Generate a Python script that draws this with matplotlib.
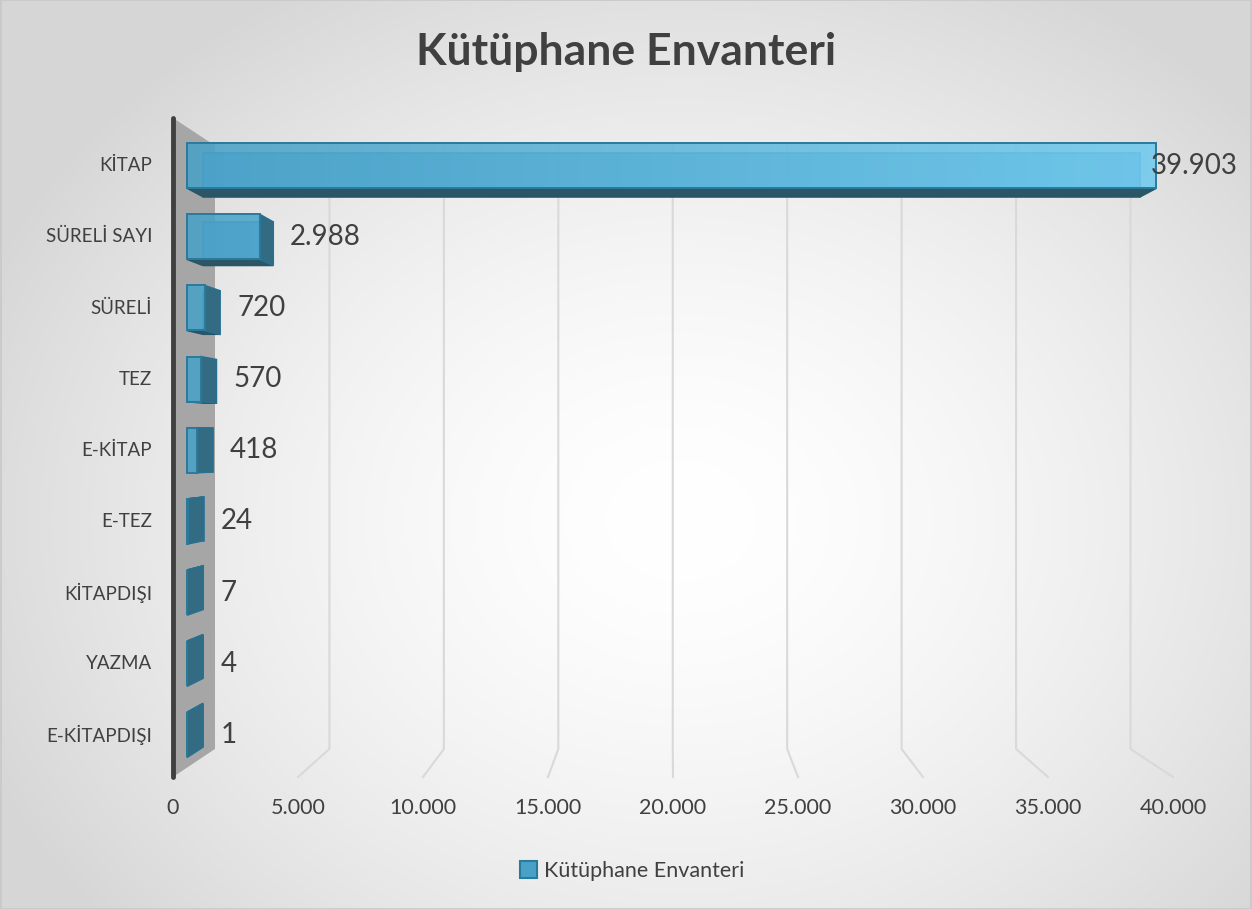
import numpy as np
import matplotlib
matplotlib.use("Agg")
import matplotlib.pyplot as plt
from matplotlib.patches import Polygon, Patch, Rectangle
from matplotlib.colors import LinearSegmentedColormap

# ---- data ----
categories = ["KİTAP", "SÜRELİ SAYI", "SÜRELİ", "TEZ", "E-KİTAP",
              "E-TEZ", "KİTAPDIŞI", "YAZMA", "E-KİTAPDIŞI"]
values = [39903, 2988, 720, 570, 418, 24, 7, 4, 1]
tick_values = [0, 5000, 10000, 15000, 20000, 25000, 30000, 35000, 40000]
tick_labels = ["0", "5.000", "10.000", "15.000", "20.000", "25.000",
               "30.000", "35.000", "40.000"]
series_name = "Kütüphane Envanteri"
title = "Kütüphane Envanteri"

W, H = 1252, 909
plt.rcParams['font.family'] = ['Lato', 'DejaVu Sans']
TXT = '#404040'

fig = plt.figure(figsize=(W / 100, H / 100), dpi=100)

# background radial gradient
bg = fig.add_axes([0, 0, 1, 1], zorder=-10)
yy, xx = np.mgrid[0:H, 0:W]
r = np.sqrt(((xx - 680) / 760.0) ** 2 + ((yy - 520) / 620.0) ** 2)
shade = 1.0 - 0.16 * np.clip(r, 0, 1) ** 1.6
bgimg = np.dstack([shade, shade, shade])
bg.imshow(bgimg, extent=[0, 1, 0, 1], aspect='auto', origin='upper')
bg.add_patch(Rectangle((0.0005, 0.0005), 0.999, 0.999, fill=False,
                       ec='#C8C8C8', lw=1.2, transform=bg.transAxes))
bg.set_xlim(0, 1); bg.set_ylim(0, 1)
bg.axis('off')

# main axes = front plane of the 3D box
ax = fig.add_axes([173 / W, 1 - 777 / H, 1000 / W, 659 / H])
XMAX = tick_values[-1]
ax.set_xlim(0, XMAX)
ax.set_ylim(len(categories) - 0.5, -0.5)
ax.axis('off')
ax.patch.set_alpha(0)

# perspective model (vanishing point in data coordinates)
VX = (670 - 173) / 1000 * XMAX
VY = -0.5 + (445 - 118) / 659 * len(categories)
S_WALL = 0.9155
S_FRONT = 0.9718
S_BACK = 0.9396
S_LABEL = 0.933
HH = 0.316
YOFF = 0.04


def proj(v, c, s):
    return (VX + s * (v - VX), VY + s * (c - VY))


top_c = -0.5
bot_c = len(categories) - 0.5

# side wall
wall = [proj(0, top_c, 1), proj(0, top_c, S_WALL),
        proj(0, bot_c, S_WALL), proj(0, bot_c, 1)]
ax.add_patch(Polygon(wall, closed=True, fc='#A6A6A6', ec='none', zorder=1,
                     clip_on=False))
ax.plot([0, 0], [top_c, bot_c], color='#404040', lw=3.5, zorder=2,
        solid_capstyle='round', clip_on=False)

# gridlines on back wall and floor
for v in tick_values[1:]:
    p1 = proj(v, top_c, S_WALL)
    p2 = proj(v, bot_c, S_WALL)
    p3 = proj(v, bot_c, 1)
    ax.plot([p1[0], p2[0], p3[0]], [p1[1], p2[1], p3[1]], color='#D9D9D9',
            lw=1.5, zorder=1, clip_on=False)

# tick labels
for v, lab in zip(tick_values, tick_labels):
    ax.annotate(lab, xy=proj(v, bot_c, 1), xytext=(0, -31),
                textcoords='offset pixels', ha='center', va='center',
                fontsize=15.5, color=TXT, annotation_clip=False)

# gradient for front faces
cmap = LinearSegmentedColormap.from_list('bar', ['#4AA1C7', '#72CBEF'])
grad = np.linspace(0, 1, 256).reshape(1, -1)

EDGE = '#2A7A9C'
for i, (cat, v) in enumerate(zip(categories, values)):
    c = i + YOFF
    t, b = c - HH, c + HH
    F = [proj(0, t, S_FRONT), proj(v, t, S_FRONT),
         proj(v, b, S_FRONT), proj(0, b, S_FRONT)]
    B = [proj(0, t, S_BACK), proj(v, t, S_BACK),
         proj(v, b, S_BACK), proj(0, b, S_BACK)]
    # back face
    ax.add_patch(Polygon(B, closed=True, fc='#4AA1C7', ec=EDGE, lw=1.2,
                         alpha=0.9, zorder=3, clip_on=False))
    # horizontal face
    if c < VY:
        hf = [F[3], F[2], B[2], B[3]]
        ax.add_patch(Polygon(hf, closed=True, fc='#2D5566', ec='#27566A',
                             lw=1.2, zorder=4, clip_on=False))
    else:
        hf = [F[0], F[1], B[1], B[0]]
        ax.add_patch(Polygon(hf, closed=True, fc='#3A7A93', ec=EDGE,
                             lw=1.2, zorder=4, clip_on=False))
    # right end face
    if F[1][0] < VX:
        rf = [F[1], B[1], B[2], F[2]]
        ax.add_patch(Polygon(rf, closed=True, fc='#336B82', ec='#29708E',
                             lw=1.2, zorder=5, clip_on=False))
    # front face with gradient
    fp = Polygon(F, closed=True, fc='none', ec=EDGE, lw=1.4, zorder=7,
                 clip_on=False)
    ax.add_patch(fp)
    im = ax.imshow(grad, cmap=cmap, extent=(0, XMAX, bot_c, top_c),
                   aspect='auto', alpha=0.88, zorder=6)
    clip = Polygon(F, closed=True, transform=ax.transData)
    im.set_clip_path(clip)

    yc = (F[0][1] + F[3][1]) / 2
    # category label
    ax.annotate(cat, xy=(0, yc), xytext=(-21, 0), textcoords='offset pixels',
                ha='right', va='center', fontsize=13.5, color=TXT,
                annotation_clip=False)
    # data label
    lab = f"{v:,}".replace(",", ".")
    lx = proj(v, c, S_LABEL)[0]
    ax.annotate(lab, xy=(lx, yc), xytext=(14, 0),
                textcoords='offset pixels', ha='left', va='center',
                fontsize=20, color=TXT, annotation_clip=False, zorder=8)

ax.set_xlim(0, XMAX)
ax.set_ylim(bot_c, top_c)

# title
fig.text(0.5, 1 - 52 / H, title, ha='center', va='center', fontsize=32,
         fontweight='bold', color=TXT)

# legend
fig.legend(handles=[Patch(facecolor='#4AA1C7', edgecolor='#2A7A9C',
                          lw=1.5, label=series_name)],
           loc='center', bbox_to_anchor=(632 / W, 1 - 871 / H),
           frameon=False, fontsize=15.5, handlelength=0.8, handleheight=0.8,
           handletextpad=0.3, labelcolor=TXT)

fig.savefig('out.png', dpi=100)
